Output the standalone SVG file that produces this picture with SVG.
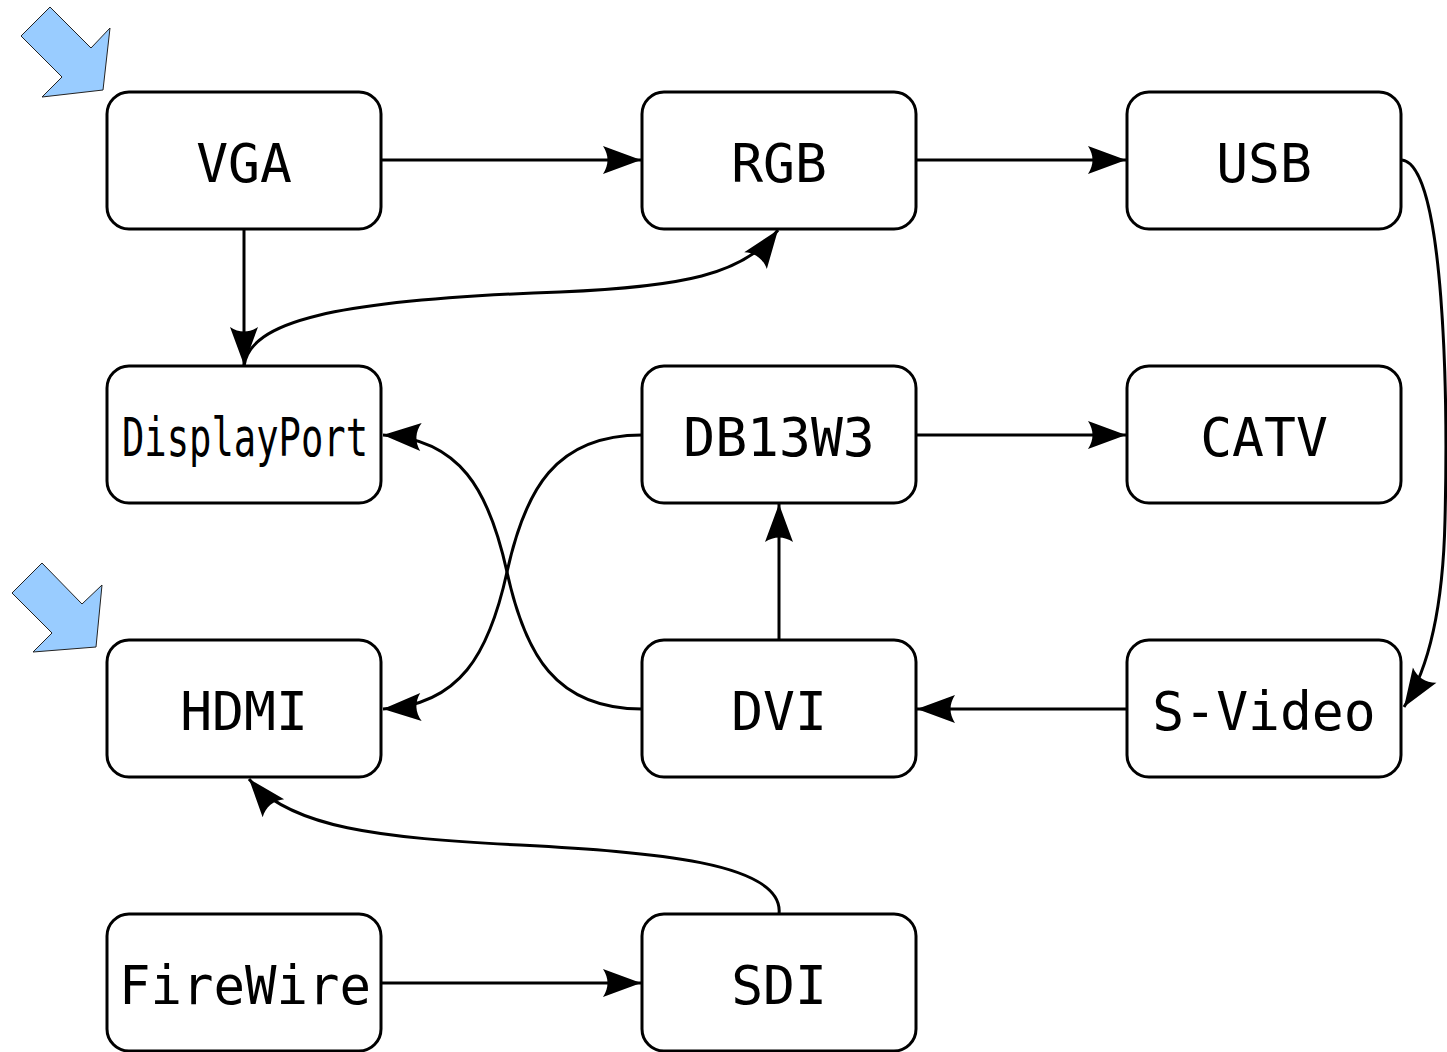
<svg xmlns="http://www.w3.org/2000/svg" width="1447" height="1052" viewBox="0 0 1447 1052">
<style>
.box{fill:#fff;stroke:#000;stroke-width:3}
.lbl{font-family:"DejaVu Sans Mono","Liberation Mono",monospace;font-size:53px;fill:#000;text-anchor:middle}
.edge{fill:none;stroke:#000;stroke-width:3;marker-end:url(#ah)}
.start{fill:#99ccff;stroke:#222;stroke-width:1}
</style>
<defs>
<marker id="ah" markerUnits="userSpaceOnUse" markerWidth="50" markerHeight="40" viewBox="-40 -20 50 40" refX="0" refY="0" orient="auto" overflow="visible">
<path d="M0,0 L-38,-14 C-32,-5 -32,5 -38,14 Z" fill="#000"/>
</marker>
</defs>
<rect width="1447" height="1052" fill="#fff"/>
<g id="start-arrows">
<polygon class="start" points="50,7 91,48 110,28 103,90 42,97 62,77 21,36"/>
<polygon class="start" points="42,563 82,604 102,585 96,647 33,652 52,633 12,593"/>
</g>
<g id="connectors">
<path class="edge" d="M381,160 L641,160"/>
<path class="edge" d="M916,160 L1126,160"/>
<path class="edge" d="M1402,160 C1445,165 1448,400 1445,520 C1443,610 1428,670 1404,707"/>
<path class="edge" d="M244,229 L244,365"/>
<path class="edge" d="M244,366 C250,322 330,300 560,292 C680,287 745,275 778,230"/>
<path class="edge" d="M642,435 C555,435 525,490 507,572 C489,654 460,705 383,709"/>
<path class="edge" d="M642,709 C555,709 525,654 507,572 C489,490 460,439 383,435"/>
<path class="edge" d="M916,435 L1126,435"/>
<path class="edge" d="M779,640 L779,504"/>
<path class="edge" d="M1127,709 L917,709"/>
<path class="edge" d="M779,914 C785,862 650,852 520,845 C380,838 290,828 249,779"/>
<path class="edge" d="M381,983 L641,983"/>
</g>
<g id="VGA"><rect class="box" x="107" y="92" width="274" height="137" rx="22"/><text class="lbl" x="244" y="182">VGA</text></g>
<g id="RGB"><rect class="box" x="642" y="92" width="274" height="137" rx="22"/><text class="lbl" x="779" y="182">RGB</text></g>
<g id="USB"><rect class="box" x="1127" y="92" width="274" height="137" rx="22"/><text class="lbl" x="1264" y="182">USB</text></g>
<g id="DisplayPort"><rect class="box" x="107" y="366" width="274" height="137" rx="22"/><text class="lbl" x="245" y="456" textLength="246" lengthAdjust="spacingAndGlyphs">DisplayPort</text></g>
<g id="DB13W3"><rect class="box" x="642" y="366" width="274" height="137" rx="22"/><text class="lbl" x="779" y="456">DB13W3</text></g>
<g id="CATV"><rect class="box" x="1127" y="366" width="274" height="137" rx="22"/><text class="lbl" x="1264" y="456">CATV</text></g>
<g id="HDMI"><rect class="box" x="107" y="640" width="274" height="137" rx="22"/><text class="lbl" x="244" y="730">HDMI</text></g>
<g id="DVI"><rect class="box" x="642" y="640" width="274" height="137" rx="22"/><text class="lbl" x="779" y="730">DVI</text></g>
<g id="S-Video"><rect class="box" x="1127" y="640" width="274" height="137" rx="22"/><text class="lbl" x="1264" y="730">S-Video</text></g>
<g id="FireWire"><rect class="box" x="107" y="914" width="274" height="137" rx="22"/><text class="lbl" x="245" y="1004" textLength="252" lengthAdjust="spacingAndGlyphs">FireWire</text></g>
<g id="SDI"><rect class="box" x="642" y="914" width="274" height="137" rx="22"/><text class="lbl" x="779" y="1004">SDI</text></g>
</svg>
